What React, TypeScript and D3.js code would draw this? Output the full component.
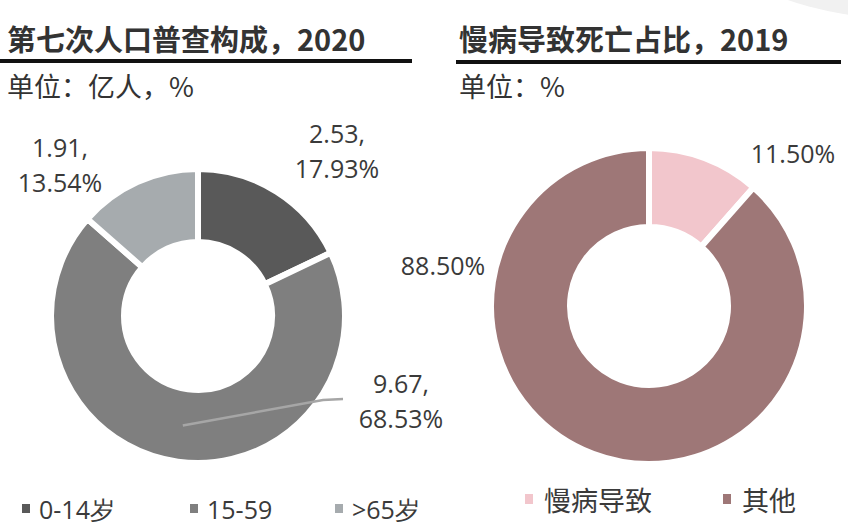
import React from "react";
import * as d3 from "d3";

const popCategories = ["0-14岁", "15-59", ">65岁"];
const popValues = [2.53, 9.67, 1.91];
const popPercents = [17.93, 68.53, 13.54];
const popColors = ["#595959", "#7f7f7f", "#a6abae"];

const deathCategories = ["慢病导致", "其他"];
const deathPercents = [11.5, 88.5];
const deathColors = ["#f2c6cc", "#9e7777"];

const W = 848;
const H = 527;
const labelFont = "'Open Sans', 'Noto Sans', sans-serif";
const cjkFont = "'Noto Sans CJK SC', 'Noto Sans', sans-serif";
const textColor = "#3a3a3a";

export default function App() {
  const pie = d3.pie<number>().sort(null).value((d) => d);

  // left donut
  const lcx = 198, lcy = 316, lOuter = 147, lInner = 74;
  const lArc = d3.arc<d3.PieArcDatum<number>>().innerRadius(lInner).outerRadius(lOuter);
  const lArcs = pie(popPercents);

  // right donut
  const rcx = 649, rcy = 306, rOuter = 158, rInner = 79;
  const rArc = d3.arc<d3.PieArcDatum<number>>().innerRadius(rInner).outerRadius(rOuter);
  const rArcs = pie(deathPercents);

  const fmt = (v: number) => v.toFixed(2);

  const leaderStart = lArc.centroid(lArcs[1]);

  const lLabelPos = [
    [139, -173],
    [203, 77],
    [-138, -159],
  ];
  const rLabelPos = [
    [144, -143],
    [-206, -31],
  ];

  return (
    <svg
      width={W}
      height={H}
      style={{ position: "absolute", left: 0, top: 0, background: "#fff" }}
    >
      <ellipse cx={920} cy={-60} rx={200} ry={80} fill="#f1f1f1" />

      <text x={7} y={51} fontFamily={cjkFont} fontWeight="bold" fontSize={29} fill="#333">
        第七次人口普查构成，2020
      </text>
      <line x1={0} x2={412} y1={61} y2={61} stroke="#111" strokeWidth={4} />
      <text x={7} y={97} fontFamily={cjkFont} fontSize={27} fill="#333">
        单位：亿人，%
      </text>

      <text x={459} y={51} fontFamily={cjkFont} fontWeight="bold" fontSize={29} fill="#333">
        慢病导致死亡占比，2019
      </text>
      <line x1={456} x2={841} y1={62} y2={62} stroke="#111" strokeWidth={4} />
      <text x={459} y={97} fontFamily={cjkFont} fontSize={27} fill="#333">
        单位：%
      </text>

      <g transform={`translate(${lcx},${lcy})`}>
        {lArcs.map((a, i) => (
          <path key={i} d={lArc(a) || ""} fill={popColors[i]} stroke="#fff" strokeWidth={6} />
        ))}
        <polyline
          points={`${leaderStart[0]},${leaderStart[1]} 125,84 145,83`}
          fill="none"
          stroke="#a6a6a6"
          strokeWidth={2.5}
        />
        {lArcs.map((a, i) => (
          <text
            key={i}
            x={lLabelPos[i][0]}
            y={lLabelPos[i][1]}
            textAnchor="middle"
            fontFamily={labelFont}
            fontSize={25}
            fill={textColor}
          >
            <tspan x={lLabelPos[i][0]}>{fmt(popValues[i])},</tspan>
            <tspan x={lLabelPos[i][0]} dy={35}>
              {fmt(popPercents[i])}%
            </tspan>
          </text>
        ))}
      </g>

      <g transform={`translate(${rcx},${rcy})`}>
        {rArcs.map((a, i) => (
          <path key={i} d={rArc(a) || ""} fill={deathColors[i]} stroke="#fff" strokeWidth={6} />
        ))}
        {rArcs.map((a, i) => (
          <text
            key={i}
            x={rLabelPos[i][0]}
            y={rLabelPos[i][1]}
            textAnchor="middle"
            fontFamily={labelFont}
            fontSize={25}
            fill={textColor}
          >
            {fmt(deathPercents[i])}%
          </text>
        ))}
      </g>

      {popCategories.map((c, i) => {
        const xs = [22, 190, 335];
        return (
          <g key={c}>
            <rect x={xs[i]} y={504} width={8} height={9} fill={popColors[i]} />
            <text x={xs[i] + 17} y={519} fontFamily={labelFont} fontSize={25} fill={textColor}>
              {c}
            </text>
          </g>
        );
      })}
      {deathCategories.map((c, i) => {
        const xs = [525, 723];
        return (
          <g key={c}>
            <rect x={xs[i]} y={494} width={8} height={10} fill={deathColors[i]} />
            <text x={xs[i] + 19} y={511} fontFamily={cjkFont} fontSize={27} fill={textColor}>
              {c}
            </text>
          </g>
        );
      })}
    </svg>
  );
}
